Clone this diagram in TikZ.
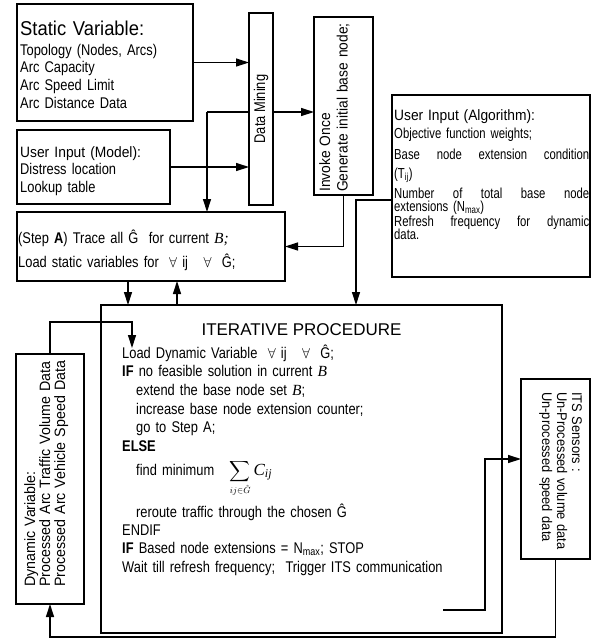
\documentclass[tikz,border=0pt]{standalone}
\usepackage{exscale}
\usepackage{fontspec}
\setmainfont{Liberation Sans}
\newfontfamily\narfont{Liberation Sans}[FakeStretch=0.83]
\newfontfamily\midfont{Liberation Sans}[FakeStretch=0.92]
\newfontfamily\dynfont{Liberation Sans}[FakeStretch=0.95]
\newfontfamily\algfont{Liberation Sans}[FakeStretch=0.78]
\newfontfamily\serfont{Liberation Serif}
\usetikzlibrary{arrows.meta}
\newcommand\fbody{\narfont\fontsize{15.5}{17.7}\selectfont}
\newcommand\itB{{\serfont\itshape B}}
\begin{document}
\begin{tikzpicture}[x=1pt,y=-1pt,
  box/.style={draw, line width=1.7pt, fill=white, inner sep=0pt, outer sep=0pt, anchor=north west},
  txt/.style={inner sep=0pt, anchor=base west, align=left, text width=330pt, font=\fbody},
  arr/.style={line width=1.3pt, -{Triangle[length=13pt,width=8pt]}},
  ln/.style={line width=1.3pt}]
\useasboundingbox (0,0) rectangle (598,641);
% boxes
\node[box, minimum width=176pt, minimum height=117pt] (static) at (17,4) {};
\node[box, minimum width=153pt, minimum height=74pt] (model) at (17,130) {};
\node[box, minimum width=24pt, minimum height=192pt] (dm) at (249,13) {};
\node[box, minimum width=59pt, minimum height=178pt] (inv) at (314,17) {};
\node[box, minimum width=198pt, minimum height=182pt] (alg) at (392,95) {};
\node[box, minimum width=268pt, minimum height=69pt] (stepa) at (17,212) {};
\node[box, minimum width=401pt, minimum height=328pt] (iter) at (101,305) {};
\node[box, minimum width=68pt, minimum height=250pt] (dyn) at (16,354) {};
\node[box, minimum width=69pt, minimum height=180pt] (its) at (521,379) {};
% texts
\node[txt, text width=170pt, font=\midfont\fontsize{20}{22}\selectfont] (stitle) at (20,35) {Static Variable:};
\node[txt, text width=170pt] (stext) at (20,55) {Topology (Nodes, Arcs)\\Arc Capacity\\Arc Speed Limit\\Arc Distance Data};
\node[txt, text width=150pt] (mtext) at (20,157) {{\midfont\fontsize{15}{17.5}\selectfont User Input (Model):}\\Distress location\\Lookup table};
\node[inner sep=0pt, rotate=90, font=\fbody] (dmtext) at (dm.center) {Data Mining};
\node[txt, text width=175pt, rotate=90, font=\midfont\fontsize{15}{17.5}\selectfont] (invtext) at (330,192) {Invoke Once\\Generate initial base node;};
\node[txt, text width=195pt, font=\algfont\fontsize{14.5}{14}\selectfont] (algtext) at (394,120)
  {{\midfont\fontsize{15}{14}\selectfont User Input (Algorithm):}\\[4pt]
   Objective function weights;\\[7pt]
   Base\hfill node\hfill extension\hfill condition\\[5pt]
   (T\textsubscript{ij})\\[4pt]
   Number\hfill of\hfill total\hfill base\hfill node\\[-1pt]
   extensions (N\textsubscript{max})\\[1pt]
   Refresh\hfill frequency\hfill for\hfill dynamic\\[-1pt]
   data.};
\node[txt, text width=265pt] (stext2) at (18,243) {(Step \textbf{A}) Trace all Ĝ \ for current {\serfont\itshape B;}\\[6.3pt]
  Load static variables for \ $\forall$ ij \ \ $\forall$ \ Ĝ;};
\node[inner sep=0pt, anchor=base, font=\fontsize{17}{20}\selectfont] (ititle) at (301.5,335) {ITERATIVE PROCEDURE};
\node[txt, font=\narfont\fontsize{15.5}{18.7}\selectfont] (itxa) at (122,358)
  {Load Dynamic Variable \ $\forall$ ij \ \ $\forall$ \ Ĝ;\\
   \textbf{IF} no feasible solution in current \itB\\
   \hspace*{14pt}extend the base node set \itB;\\
   \hspace*{14pt}increase base node extension counter;\\
   \hspace*{14pt}go to Step A;\\
   \textbf{ELSE}};
\node[txt, text width=200pt] (isum) at (136,475) {find minimum \ \ {\fontsize{13.5}{16}\selectfont$\displaystyle\sum_{ij\in\hat{G}}$}\hspace{3pt}{\serfont\itshape\fontsize{17}{18}\selectfont C\textsubscript{ij}}};
\node[txt, font=\narfont\fontsize{15.5}{18.4}\selectfont] (itxb) at (122,517)
  {\hspace*{14pt}reroute traffic through the chosen Ĝ\\
   ENDIF\\
   \textbf{IF} Based node extensions = N\textsubscript{max}; STOP\\
   Wait till refresh frequency; \ Trigger ITS communication};
\node[txt, text width=240pt, rotate=90, font=\dynfont\fontsize{15}{15}\selectfont] (dyntext) at (35,587)
  {Dynamic Variable:\\Processed Arc Traffic Volume Data\\Processed Arc Vehicle Speed Data};
\node[txt, text width=170pt, rotate=-90, font=\midfont\fontsize{14}{15}\selectfont] (itstext) at (572,392)
  {ITS Sensors :\\Un-Processed volume data\\Un-processed speed data};
% coordinates
\coordinate (sp) at (207,112);
\coordinate (ac) at (356,200);
\coordinate (xa) at (128,0);
\coordinate (xb) at (177,0);
\coordinate (dc) at (132,322);
\coordinate (dt) at (132,348);
\coordinate (tr) at (443,610);
\coordinate (tc) at (485,459);
\coordinate (bb) at (300,637);
% connectors
\draw[arr] (static.east) -- (static.east -| dm.west);
\draw[arr] (model.east) -- (model.east -| dm.west);
\draw[ln] (sp) -- (sp -| dm.west);
\draw[arr] (sp -| dm.east) -- (sp -| inv.west);
\draw[arr] (sp) -- (sp |- stepa.north);
\draw[arr] (inv.south) |- (stepa.east);
\draw[arr] (stepa.south -| xa) -- (iter.north -| xa);
\draw[arr] (iter.north -| xb) -- (stepa.south -| xb);
\draw[arr] (ac -| alg.west) -| (iter.north -| ac);
\draw[arr] (dyn.north) |- (dc) -- (dt);
\draw[arr] (tr) -| (tc) -- (tc -| its.west);
\draw[arr] (its.south) |- (bb) -| (dyn.south);
\end{tikzpicture}
\end{document}
